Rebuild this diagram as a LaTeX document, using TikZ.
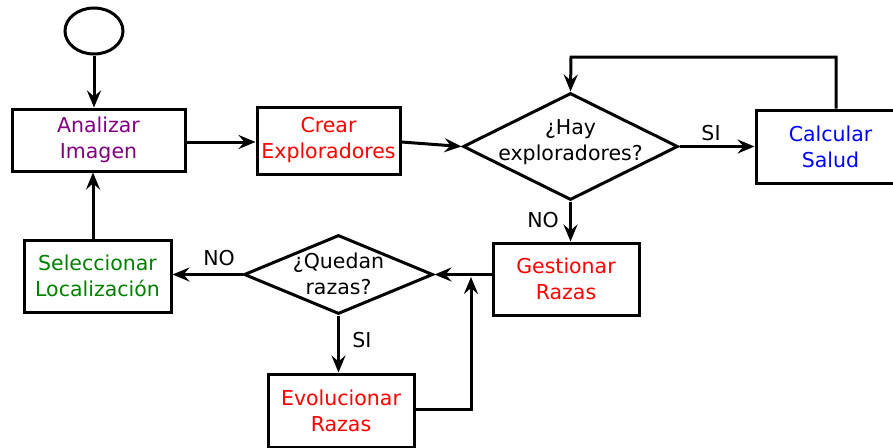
\documentclass[tikz,border=0pt]{standalone}
\usepackage{fontspec}
\setmainfont{DejaVu Sans}
\usetikzlibrary{shapes.geometric,arrows.meta}
\definecolor{cpurple}{RGB}{128,0,128}
\definecolor{cgreen}{RGB}{0,128,0}
\begin{document}
\begin{tikzpicture}[x=1pt,y=-1pt,
  every node/.style={font=\fontsize{20.5}{26}\selectfont},
  boxn/.style={draw,line width=3pt,rectangle,inner sep=0pt,align=center},
  diam/.style={draw,line width=3pt,diamond,inner sep=0pt},
  arr/.style={line width=3pt,-{Stealth[length=17pt,width=14pt,inset=6pt]}},
  ln/.style={line width=3pt}]
\useasboundingbox (0,0) rectangle (893,447);
\node[draw,line width=3pt,ellipse,minimum width=58pt,minimum height=46pt,inner sep=0pt] (start) at (94,31) {};
\node[boxn,minimum width=173pt,minimum height=62pt,text=cpurple] (anal) at (98.5,140) {Analizar\\Imagen};
\node[boxn,minimum width=143pt,minimum height=67pt,text=red] (crear) at (328.5,140.5) {Crear\\Exploradores};
\node[diam,minimum width=215pt,minimum height=107pt] (d1) at (570.5,146.5) {};
\node[align=center] (d1t) at (570.5,142) {¿Hay\\exploradores?};
\node[boxn,minimum width=149pt,minimum height=73pt,text=blue] (calc) at (830.5,146.5) {Calcular\\Salud};
\node[boxn,minimum width=146pt,minimum height=72pt,text=red] (gest) at (566,279) {Gestionar\\Razas};
\node[diam,minimum width=189pt,minimum height=79pt] (d2) at (338.5,274.5) {};
\node[align=center] (d2t) at (338.5,274) {¿Quedan\\razas?};
\node[boxn,minimum width=147pt,minimum height=72pt,text=cgreen] (sel) at (97.5,276) {Seleccionar\\Localización};
\node[boxn,minimum width=146pt,minimum height=73pt,text=red] (evo) at (341,410.5) {Evolucionar\\Razas};
\node (si1) at (711,133) {SI};
\node (no1) at (543,220) {NO};
\node (no2) at (219,258) {NO};
\node (si2) at (362,340) {SI};
\coordinate (l1) at (836,57);
\coordinate (l2) at (571,57);
\coordinate (m) at (471,409);
\coordinate (mt) at (471,277);
\draw[arr] (start.south) -- (anal.north -| start.south);
\draw[arr] (anal.east |- 0,142) -- (crear.west |- 0,142);
\draw[arr] (crear.east |- 0,142) -- (d1.west);
\draw[arr] (d1.east) -- (calc.west |- d1.east);
\draw[arr] (calc.north -| l1) -- (l1) -- (l2) -- (d1.north);
\draw[arr] (d1.south) -- (gest.north -| d1.south);
\draw[arr] (gest.west |- d2.east) -- (d2.east);
\draw[arr] (d2.west) -- (sel.east |- d2.west);
\draw[arr] (d2.south) -- (evo.north -| d2.south);
\draw[arr] (sel.north -| 93,0) -- (anal.south -| 93,0);
\draw[arr] (evo.east |- m) -- (m) -- (mt);
\end{tikzpicture}
\end{document}
